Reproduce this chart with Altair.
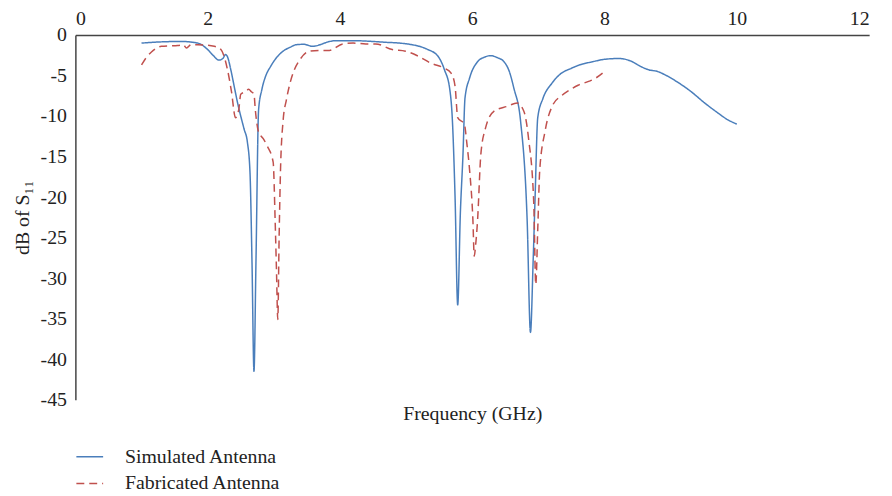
import altair as alt
import pandas as pd

sim_f = [1.0, 1.3, 1.6, 1.85, 2.0, 2.08, 2.17, 2.23, 2.27, 2.3, 2.35, 2.4, 2.45, 2.55, 2.6,
         2.64, 2.67, 2.70, 2.73, 2.77, 2.82, 2.88, 2.95, 3.05, 3.14, 3.25, 3.34, 3.45, 3.59,
         3.7, 3.8, 3.94, 4.2, 4.5, 4.69, 4.9, 5.09, 5.2, 5.33, 5.48, 5.58, 5.66, 5.70, 5.74,
         5.78, 5.82, 5.86, 5.89, 5.96, 6.08, 6.18, 6.28, 6.38, 6.48, 6.56, 6.63, 6.73, 6.83,
         6.88, 6.92, 6.95, 6.99, 7.07, 7.2, 7.32, 7.5, 7.62, 7.82, 8.0, 8.22, 8.42, 8.55, 8.67,
         8.8, 8.91, 9.1, 9.31, 9.5, 9.71, 9.85, 10.0]
sim_db = [-1.0, -0.85, -0.8, -1.0, -1.8, -2.5, -3.1, -2.9, -2.4, -2.7, -4.3, -6.3, -8.3, -11.6, -13.2,
          -17.0, -28.0, -41.5, -28.0, -9.2, -6.7, -5.0, -3.9, -2.7, -2.0, -1.5, -1.2, -1.15, -1.4,
          -1.2, -0.9, -0.7, -0.7, -0.8, -0.9, -1.0, -1.2, -1.4, -1.8, -2.6, -4.3, -6.7, -10.6, -20.0,
          -33.3, -22.0, -14.7, -7.8, -5.3, -3.3, -2.75, -2.55, -2.8, -3.3, -4.5, -6.6, -10.6, -22.9,
          -36.7, -28.0, -20.0, -10.2, -7.8, -6.0, -4.9, -4.1, -3.7, -3.3, -3.0, -2.9, -3.3, -3.9, -4.3,
          -4.5, -4.9, -5.8, -7.0, -8.3, -9.6, -10.4, -11.0]

fab_f = [1.0, 1.07, 1.15, 1.3, 1.55, 1.63, 1.68, 1.75, 1.85, 2.1, 2.2, 2.3, 2.36, 2.42, 2.47,
         2.5, 2.57, 2.62, 2.66, 2.70, 2.72, 2.77, 2.84, 2.90, 2.99, 3.02, 3.04, 3.06, 3.08,
         3.10, 3.14, 3.19, 3.24, 3.3, 3.39, 3.54, 3.7, 3.84, 4.04, 4.2, 4.39, 4.54, 4.79, 4.99,
         5.18, 5.38, 5.58, 5.68, 5.74, 5.78, 5.88, 5.92, 5.96, 6.01, 6.03, 6.05, 6.08, 6.13,
         6.2, 6.33, 6.53, 6.68, 6.78, 6.85, 6.93, 6.96, 6.99, 7.02, 7.10, 7.22, 7.35, 7.47,
         7.6, 7.77, 7.87, 7.97]
fab_db = [-3.7, -2.8, -2.1, -1.4, -1.3, -1.2, -1.6, -1.2, -1.2, -1.4, -1.8, -4.3, -7.0, -10.2, -9.2,
          -7.3, -7.0, -6.7, -7.0, -7.3, -9.2, -12.0, -12.8, -13.7, -15.7, -22.9, -29.0, -35.1, -25.0,
          -17.0, -10.6, -8.0, -6.1, -4.5, -3.1, -2.0, -1.9, -1.9, -1.1, -1.0, -1.1, -1.1, -1.8, -2.0,
          -2.6, -3.5, -4.1, -4.7, -6.3, -10.2, -11.0, -13.5, -16.7, -22.9, -27.3, -26.0, -22.9, -14.7,
          -11.5, -9.4, -8.8, -8.4, -9.4, -12.7, -20.8, -30.8, -24.0, -16.7, -11.9, -8.6, -7.5, -6.8,
          -6.2, -5.7, -5.3, -4.7]

series_names = ["Simulated Antenna", "Fabricated Antenna"]
x_ticks = [0, 2, 4, 6, 8, 10, 12]
y_ticks = [0, -5, -10, -15, -20, -25, -30, -35, -40, -45]

df = pd.concat([
    pd.DataFrame({"f": sim_f, "db": sim_db, "series": series_names[0], "order": range(len(sim_f))}),
    pd.DataFrame({"f": fab_f, "db": fab_db, "series": series_names[1], "order": range(len(fab_f))}),
])

FONT = "Liberation Serif"
AX = "#444444"

xscale = alt.Scale(domain=[0, 12], nice=False, zero=False)
yenc = alt.Y("db:Q", scale=alt.Scale(domain=[-45, 0], nice=False),
             axis=alt.Axis(values=y_ticks, title="dB of S₁₁", ticks=False, grid=False,
                           labelExpr="'' + datum.value", labelPadding=9,
                           labelFont=FONT, labelFontSize=20, labelColor="#222",
                           titleFont=FONT, titleFontSize=20, titleFontWeight="normal",
                           titleColor="#222", titlePadding=8,
                           domainColor=AX, domainWidth=1.5))

legend = alt.Legend(title=None, orient="none", legendX=0, legendY=411,
                    symbolType="stroke", symbolSize=729, symbolStrokeWidth=1.5,
                    labelFont=FONT, labelFontSize=20, labelColor="#222",
                    labelOffset=21, rowPadding=2, padding=0)

lines = alt.Chart(df).mark_line(strokeWidth=1.5, interpolate="monotone").encode(
    x=alt.X("f:Q", scale=xscale,
            axis=alt.Axis(orient="top", values=x_ticks, title=None, ticks=False, grid=False,
                          labelExpr="'' + datum.value", labelPadding=7,
                          labelFont=FONT, labelFontSize=20, labelColor="#222",
                          domainColor=AX, domainWidth=1.5)),
    y=yenc,
    color=alt.Color("series:N", scale=alt.Scale(domain=series_names, range=["#4a7ebb", "#c0504d"]),
                    legend=legend),
    strokeDash=alt.StrokeDash("series:N", scale=alt.Scale(domain=series_names, range=[[1, 0], [8, 5]]),
                              legend=legend),
    order="order:Q",
)

title_layer = alt.Chart(df).mark_line(opacity=0).encode(
    x=alt.X("f:Q", scale=xscale,
            axis=alt.Axis(orient="bottom", title="Frequency (GHz)", labels=False, ticks=False,
                          domain=False, grid=False, titleFont=FONT, titleFontSize=20,
                          titleFontWeight="normal", titleColor="#222", titlePadding=4)),
    y=yenc,
    detail="series:N",
)

chart = alt.layer(lines, title_layer).resolve_axis(x="independent").properties(
    width=801, height=368,
    background="white",
    autosize=alt.AutoSizeParams(type="none"),
    padding={"left": 68, "top": 25, "right": 15, "bottom": 96},
).configure_view(stroke=None)

chart.save("out.html", embed_options={"renderer": "svg", "actions": False})
